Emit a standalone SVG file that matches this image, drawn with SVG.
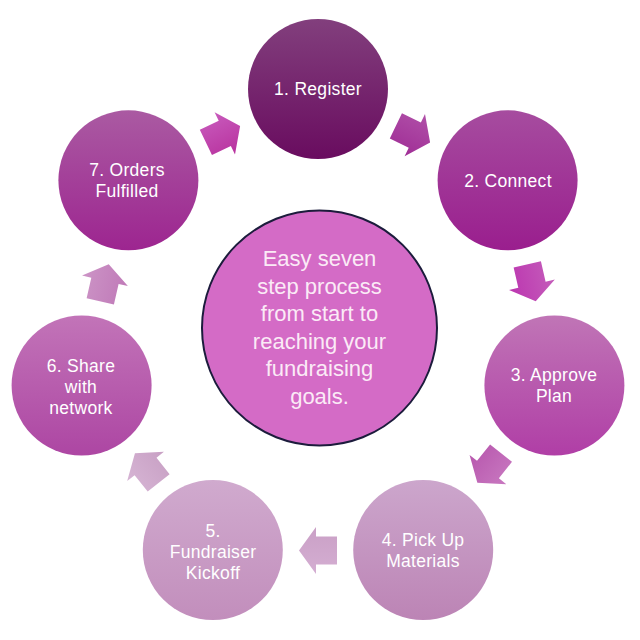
<svg xmlns="http://www.w3.org/2000/svg" width="640" height="640" viewBox="0 0 640 640">
<defs>
<linearGradient id="g1" x1="0" y1="0" x2="0" y2="1"><stop offset="0" stop-color="#823f7d"/><stop offset="1" stop-color="#690c5f"/></linearGradient>
<linearGradient id="g2" x1="0" y1="0" x2="0" y2="1"><stop offset="0" stop-color="#a64c9f"/><stop offset="1" stop-color="#9a1e8e"/></linearGradient>
<linearGradient id="g3" x1="0" y1="0" x2="0" y2="1"><stop offset="0" stop-color="#c075b6"/><stop offset="1" stop-color="#b03ea6"/></linearGradient>
<linearGradient id="g4" x1="0" y1="0" x2="0" y2="1"><stop offset="0" stop-color="#cca6cc"/><stop offset="1" stop-color="#bc84b5"/></linearGradient>
<linearGradient id="g5" x1="0" y1="0" x2="0" y2="1"><stop offset="0" stop-color="#d0aace"/><stop offset="1" stop-color="#c28ebc"/></linearGradient>
<linearGradient id="g6" x1="0" y1="0" x2="0" y2="1"><stop offset="0" stop-color="#c274b8"/><stop offset="1" stop-color="#ad46a3"/></linearGradient>
<linearGradient id="g7" x1="0" y1="0" x2="0" y2="1"><stop offset="0" stop-color="#aa5aa2"/><stop offset="1" stop-color="#9d2590"/></linearGradient>
<linearGradient id="a1" x1="0" y1="0" x2="0" y2="1"><stop offset="0" stop-color="#b050a8"/><stop offset="1" stop-color="#a02e96"/></linearGradient>
<linearGradient id="a2" x1="0" y1="0" x2="0" y2="1"><stop offset="0" stop-color="#c45cba"/><stop offset="1" stop-color="#bc36b0"/></linearGradient>
<linearGradient id="a3" x1="0" y1="0" x2="0" y2="1"><stop offset="0" stop-color="#c878c0"/><stop offset="1" stop-color="#b858ae"/></linearGradient>
<linearGradient id="a4" x1="0" y1="0" x2="0" y2="1"><stop offset="0" stop-color="#d4aed2"/><stop offset="1" stop-color="#caa0c6"/></linearGradient>
<linearGradient id="a5" x1="0" y1="0" x2="0" y2="1"><stop offset="0" stop-color="#d6b4d4"/><stop offset="1" stop-color="#c8a0c4"/></linearGradient>
<linearGradient id="a6" x1="0" y1="0" x2="0" y2="1"><stop offset="0" stop-color="#cc94c6"/><stop offset="1" stop-color="#c07ab8"/></linearGradient>
<linearGradient id="a7" x1="0" y1="0" x2="0" y2="1"><stop offset="0" stop-color="#c85abc"/><stop offset="1" stop-color="#b8329e"/></linearGradient>
<path id="arr" d="M-19,-14 L2,-14 L2,-23.5 L19,0 L2,23.5 L2,14 L-19,14 Z"/>
</defs>
<style>
.nt{font-family:"Liberation Sans",Arial,sans-serif;font-size:17.5px;fill:#ffffff;text-anchor:middle;letter-spacing:0.3px}
.ct{font-family:"Liberation Sans",Arial,sans-serif;font-size:22px;fill:#fbeaf6;text-anchor:middle}
</style>
<rect width="640" height="640" fill="#ffffff"/>
<g id="connectors">
<use href="#arr" fill="url(#a1)" transform="translate(413,134.2) rotate(25.71)"/>
<use href="#arr" fill="url(#a2)" transform="translate(531.5,282.8) rotate(77.14)"/>
<use href="#arr" fill="url(#a3)" transform="translate(489.2,468) rotate(128.57)"/>
<use href="#arr" fill="url(#a4)" transform="translate(318,550.5) rotate(180)"/>
<use href="#arr" fill="url(#a5)" transform="translate(146.8,468) rotate(231.43)"/>
<use href="#arr" fill="url(#a6)" transform="translate(104.5,282.8) rotate(282.86)"/>
<use href="#arr" fill="url(#a7)" transform="translate(223,134.2) rotate(334.29)"/>
</g>
<g id="center">
<circle cx="319.5" cy="328" r="117.5" fill="#d46bc6" stroke="#1c1c3c" stroke-width="2"/>
<text class="ct" x="319.5" y="266">Easy seven</text>
<text class="ct" x="319.5" y="293.6">step process</text>
<text class="ct" x="319.5" y="321.2">from start to</text>
<text class="ct" x="319.5" y="348.8">reaching your</text>
<text class="ct" x="319.5" y="376.4">fundraising</text>
<text class="ct" x="319.5" y="404">goals.</text>
</g>
<g id="node1">
<circle cx="318" cy="89" r="70" fill="url(#g1)"/>
<text class="nt" x="318" y="95">1. Register</text>
</g>
<g id="node2">
<circle cx="507.6" cy="180.3" r="70" fill="url(#g2)"/>
<text class="nt" x="508" y="187">2. Connect</text>
</g>
<g id="node3">
<circle cx="554.4" cy="385.5" r="70" fill="url(#g3)"/>
<text class="nt" x="554" y="381">3. Approve</text>
<text class="nt" x="554" y="402">Plan</text>
</g>
<g id="node4">
<circle cx="423.2" cy="550" r="70" fill="url(#g4)"/>
<text class="nt" x="423" y="546">4. Pick Up</text>
<text class="nt" x="423" y="567">Materials</text>
</g>
<g id="node5">
<circle cx="212.8" cy="550" r="70" fill="url(#g5)"/>
<text class="nt" x="213" y="537">5.</text>
<text class="nt" x="213" y="558">Fundraiser</text>
<text class="nt" x="213" y="579">Kickoff</text>
</g>
<g id="node6">
<circle cx="81.6" cy="385.5" r="70" fill="url(#g6)"/>
<text class="nt" x="81" y="372">6. Share</text>
<text class="nt" x="81" y="393">with</text>
<text class="nt" x="81" y="414">network</text>
</g>
<g id="node7">
<circle cx="128.4" cy="180.3" r="70" fill="url(#g7)"/>
<text class="nt" x="127" y="176">7. Orders</text>
<text class="nt" x="127" y="197">Fulfilled</text>
</g>
</svg>
